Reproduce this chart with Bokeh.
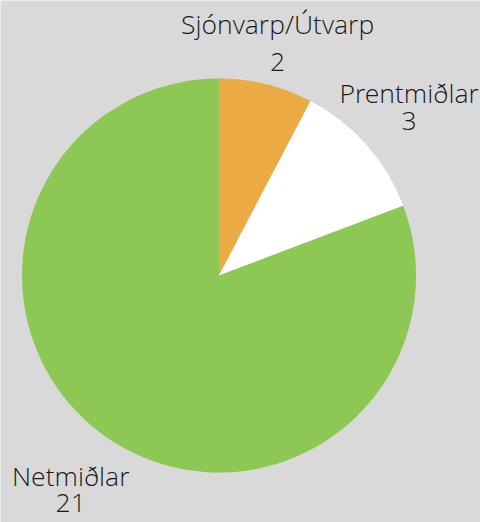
import math
from bokeh.plotting import figure
from bokeh.models import Range1d, ColumnDataSource
from bokeh.core.properties import value
from bokeh.embed import file_html
from bokeh.resources import INLINE

# data
categories = ["Sjónvarp/Útvarp", "Prentmiðlar", "Netmiðlar"]
counts = [2, 3, 21]
colors = ["#ebaa44", "#ffffff", "#8cc853"]

W, H = 480, 522
BG = "#d9d9d9"
CX, CY = 218.5, H - 275
R = 197
label_radius = [245, 254, 261]
value_gap = [38, 28, 27]
BASE_FIX = 14

total = sum(counts)
starts, ends, lx, ly, vy = [], [], [], [], []
cum = 0.0
for i, c in enumerate(counts):
    a0 = cum / total
    a1 = (cum + c) / total
    cum += c
    starts.append(math.pi / 2 - 2 * math.pi * a1)
    ends.append(math.pi / 2 - 2 * math.pi * a0)
    mid = 2 * math.pi * (a0 + a1) / 2  # clockwise from top
    x = CX + label_radius[i] * math.sin(mid)
    y = CY + label_radius[i] * math.cos(mid) + BASE_FIX
    lx.append(x)
    ly.append(y)
    vy.append(y - value_gap[i])

src = ColumnDataSource(dict(cat=categories, val=[str(v) for v in counts],
                            color=colors, start=starts, end=ends,
                            lx=lx, ly=ly, vy=vy))

p = figure(width=W, height=H, output_backend="svg", toolbar_location=None,
           x_range=Range1d(0, W), y_range=Range1d(0, H), min_border=0)
p.axis.visible = False
p.grid.visible = False
p.outline_line_color = None
p.background_fill_color = BG
p.border_fill_color = BG

p.wedge(x=CX, y=CY, radius=R, start_angle="start", end_angle="end",
        fill_color="color", line_color=None, source=src)

font = value("Open Sans Light")
p.text(x="lx", y="ly", text="cat", source=src, text_font=font,
       text_font_size="26.5px", text_color="#1a1a1a", text_align="center",
       text_baseline="alphabetic")
p.text(x="lx", y="vy", text="val", source=src, text_font=font,
       text_font_size="26.5px", text_color="#1a1a1a", text_align="center",
       text_baseline="alphabetic")

open("out.html", "w").write(file_html(p, INLINE))
